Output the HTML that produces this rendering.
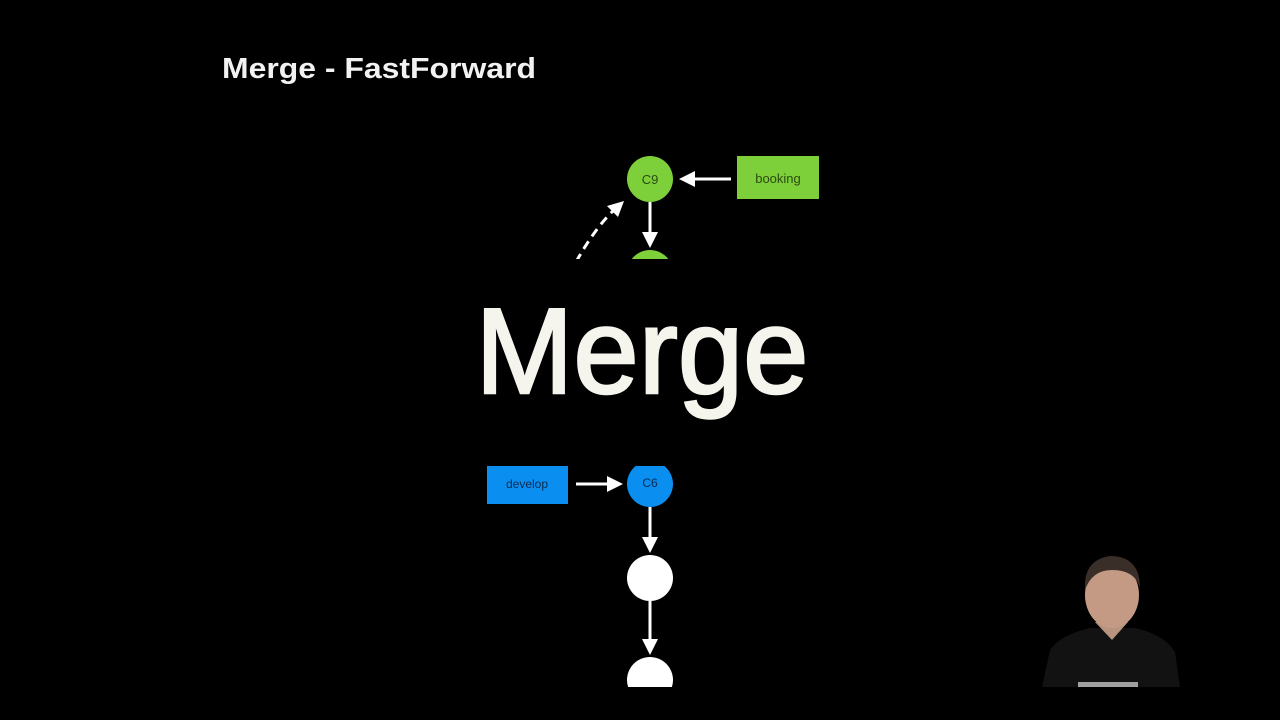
<!DOCTYPE html>
<html><head><meta charset="utf-8"><style>
html,body{margin:0;padding:0;background:#000;width:1280px;height:720px;overflow:hidden}
</style></head><body>
<svg width="1280" height="720" viewBox="0 0 1280 720" xmlns="http://www.w3.org/2000/svg">
<rect width="1280" height="720" fill="#000"/>
<text x="222" y="78" font-family="Liberation Sans, sans-serif" font-weight="bold" font-size="29" fill="#f2f2f2" textLength="314" lengthAdjust="spacingAndGlyphs">Merge - FastForward</text>
<defs>
<clipPath id="top"><rect x="0" y="0" width="1280" height="259"/></clipPath>
<clipPath id="bot"><rect x="0" y="466" width="1280" height="221"/></clipPath>
</defs>
<g clip-path="url(#top)">
<circle cx="650" cy="179" r="23" fill="#7ed03a"/>
<text x="650" y="184" text-anchor="middle" font-family="Liberation Sans, sans-serif" font-size="13" fill="#2a4a10">C9</text>
<rect x="737" y="156" width="82" height="43" fill="#7ed03a"/>
<text x="778" y="183" text-anchor="middle" font-family="Liberation Sans, sans-serif" font-size="13" fill="#2a4a10">booking</text>
<line x1="731" y1="179" x2="692" y2="179" stroke="#fff" stroke-width="3"/>
<polygon points="679,179 695,171 695,187" fill="#fff"/>
<line x1="650" y1="202" x2="650" y2="235" stroke="#fff" stroke-width="3"/>
<polygon points="650,248 642,232 658,232" fill="#fff"/>
<circle cx="650" cy="273" r="23" fill="#7ed03a"/>
<path d="M576 262 Q595 228 614 210" fill="none" stroke="#fff" stroke-width="3" stroke-dasharray="9 6"/>
<polygon points="624,201 607,206 618,217" fill="#fff"/>
</g>
<g clip-path="url(#bot)">
<rect x="487" y="466" width="81" height="38" fill="#0a8ef0"/>
<text x="527" y="488" text-anchor="middle" font-family="Liberation Sans, sans-serif" font-size="12" fill="#0a2a50">develop</text>
<line x1="576" y1="484" x2="610" y2="484" stroke="#fff" stroke-width="3"/>
<polygon points="623,484 607,476 607,492" fill="#fff"/>
<circle cx="650" cy="484" r="23" fill="#0a8ef0"/>
<text x="650" y="487" text-anchor="middle" font-family="Liberation Sans, sans-serif" font-size="12" fill="#0a2a50">C6</text>
<line x1="650" y1="507" x2="650" y2="540" stroke="#fff" stroke-width="3"/>
<polygon points="650,553 642,537 658,537" fill="#fff"/>
<circle cx="650" cy="578" r="23" fill="#fff"/>
<line x1="650" y1="601" x2="650" y2="642" stroke="#fff" stroke-width="3"/>
<polygon points="650,655 642,639 658,639" fill="#fff"/>
<circle cx="650" cy="680" r="23" fill="#fff"/>
</g>
<text x="642" y="393" text-anchor="middle" font-family="Liberation Sans, sans-serif" font-size="122" fill="#f5f5ee" stroke="#f5f5ee" stroke-width="2.5" textLength="333" lengthAdjust="spacingAndGlyphs">Merge</text>
<path d="M1042 687 L1050 650 Q1060 635 1090 628 L1135 628 Q1165 635 1175 652 L1180 687 Z" fill="#121212"/>
<path d="M1095 622 L1112 640 L1128 622 Z" fill="#b8937e"/>
<ellipse cx="1112" cy="595" rx="27" ry="33" fill="#c49a84"/>
<path d="M1085 590 Q1083 560 1110 556 Q1140 556 1140 588 Q1135 570 1112 570 Q1092 570 1085 590Z" fill="#3a2e28"/>
<rect x="1078" y="682" width="60" height="5" fill="#ddd" opacity="0.7"/>
</svg>
</body></html>
